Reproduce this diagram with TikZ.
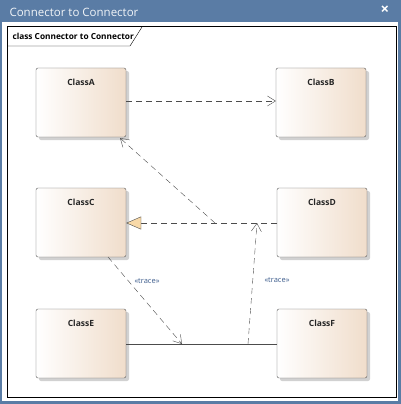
\documentclass[tikz,border=0pt]{standalone}
\usepackage{fontspec}
\setmainfont{Open Sans}
\usepackage{tikz}
\usetikzlibrary{
    arrows.meta,
    calc,
    positioning
}
\definecolor{winblue}{HTML}{5A7CA5}
\definecolor{classend}{HTML}{F0DDCB}
\definecolor{stereo}{HTML}{3C5C8C}
\definecolor{realfill}{HTML}{F8D9A8}
\tikzset{
    classbox/.style={draw=black!65, rounded corners=2pt, minimum width=90pt, minimum height=69pt,
        left color=white, right color=classend, inner sep=0pt},
    classname/.style={font=\bfseries\fontsize{8.5}{10}\selectfont, text=black!85},
    dep/.style={draw=black!70, dash pattern=on 6pt off 4pt, -{Straight Barb[length=8pt,width=10pt]}},
    real/.style={draw=black!70, dash pattern=on 6pt off 4pt, -{Triangle[open,length=15pt,width=13pt,fill=realfill]}},
    stereotype/.style={font=\fontsize{7.5}{9}\selectfont, text=stereo}
}
\begin{document}
\begin{tikzpicture}[x=1pt, y=-1pt]
    \useasboundingbox (0,0) rectangle (401,404);
    % window
    \fill[winblue] (0,0) rectangle (401,404);
    \fill[white!95!black!3] (2,22) rectangle (398,401);
    \node[anchor=west, text=white!92!winblue, font=\fontsize{11.5}{13}\selectfont] (title) at (6,12) {Connector to Connector};
    \node[text=white, font=\bfseries\fontsize{15}{15}\selectfont] (close) at (385,10) {×};
    % frame
    \draw[black, fill=white] (7,26) rectangle (396,397);
    \draw[black] (7,46) -- (130,46) -- (142,27);
    \node[anchor=west, font=\bfseries\fontsize{8.3}{10}\selectfont] (frame) at (9,36) {class Connector to Connector};

    % shadows
    \foreach \x/\y in {36/68, 276/68, 36/188, 277/188, 36/309, 277/309}
        \fill[black!18, rounded corners=2pt] (\x+3,\y+3) rectangle (\x+93,\y+72);

    % classes
    \node[classbox] (a) at (81,102.5) {};
    \node[classbox] (b) at (321,102.5) {};
    \node[classbox] (c) at (81,222.5) {};
    \node[classbox] (d) at (322,222.5) {};
    \node[classbox] (e) at (81,343.5) {};
    \node[classbox] (f) at (322,343.5) {};
    \node[classname, below=8pt of a.north] (na) {ClassA};
    \node[classname, below=8pt of b.north] (nb) {ClassB};
    \node[classname, below=8pt of c.north] (nc) {ClassC};
    \node[classname, below=8pt of d.north] (nd) {ClassD};
    \node[classname, below=8pt of e.north] (ne) {ClassE};
    \node[classname, below=8pt of f.north] (nf) {ClassF};

    % connector points
    \coordinate (ef1) at (182,344);
    \coordinate (ef2) at (248,344);
    \coordinate (cd1) at (215,223);
    \coordinate (cd2) at (257,223);
    \coordinate (ab) at (a.east |- 0,101);
    \coordinate (ba) at (b.west |- 0,101);
    \coordinate (ca) at (120,138);
    \coordinate (cb) at (108,257);

    \draw[black!70] (e.east |- ef1) -- (f.west |- ef1);
    \draw[real] (d.west |- cd1) -- (c.east |- cd1);
    \draw
    (ab) edge[dep] (ba)
    (cd1) edge[dep] (ca)
    (cb) edge[dep] (ef1)
    (ef2) edge[dep] (cd2);

    \node[stereotype] (t1) at (147,281) {«trace»};
    \node[stereotype] (t2) at (277,280) {«trace»};
\end{tikzpicture}
\end{document}
